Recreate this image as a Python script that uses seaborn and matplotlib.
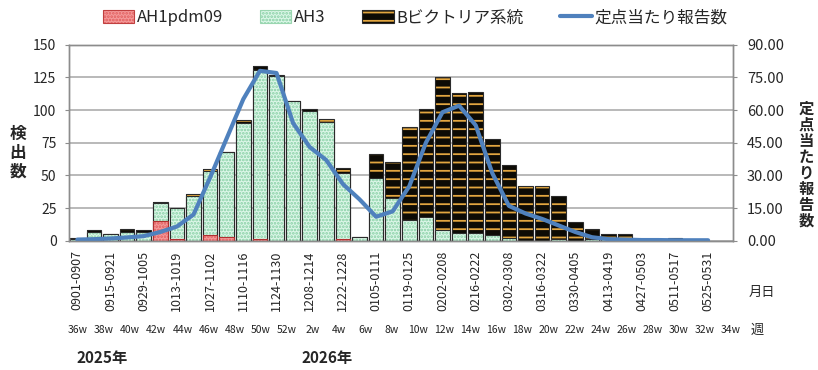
import numpy as np
import pandas as pd
import matplotlib
matplotlib.use("Agg")
import matplotlib.pyplot as plt
import seaborn as sns
from matplotlib.patches import Patch, Rectangle
from matplotlib.lines import Line2D
from matplotlib.legend_handler import HandlerTuple

# ---------------- data ----------------
week_cats = ["36w", "37w", "38w", "39w", "40w", "41w", "42w", "43w", "44w", "45w",
             "46w", "47w", "48w", "49w", "50w", "51w", "52w", "1w", "2w", "3w",
             "4w", "5w", "6w", "7w", "8w", "9w", "10w", "11w", "12w", "13w",
             "14w", "15w", "16w", "17w", "18w", "19w", "20w", "21w", "22w", "23w"]

date_ticks = ["0901-0907", "0915-0921", "0929-1005", "1013-1019", "1027-1102",
              "1110-1116", "1124-1130", "1208-1214", "1222-1228", "0105-0111",
              "0119-0125", "0202-0208", "0216-0222", "0302-0308", "0316-0322",
              "0330-0405", "0413-0419", "0427-0503", "0511-0517", "0525-0531"]

week_row = ["36w", "38w", "40w", "42w", "44w", "46w", "48w", "50w", "52w", "2w",
            "4w", "6w", "8w", "10w", "12w", "14w", "16w", "18w", "20w", "22w",
            "24w", "26w", "28w", "30w", "32w", "34w"]

ah1pdm09 = [0, 0, 0, 0, 0, 15, 1, 0, 4, 3,
            0, 1, 0, 0, 0, 0, 1, 0, 0, 0,
            0, 0, 0, 0, 0, 0, 0, 0, 0, 0,
            0, 0, 0, 0, 0, 0, 0, 0, 0, 0]
ah3 = [1, 7, 5, 7, 7, 14, 24, 34, 49, 65,
       90, 130, 126, 107, 99, 91, 51, 3, 48, 33,
       16, 18, 8, 6, 6, 4, 2, 0, 0, 1,
       0, 1, 2, 2, 0, 0, 0, 0, 0, 0]
b_victoria = [1, 1, 0, 2, 1, 1, 0, 2, 2, 0,
              2, 3, 1, 0, 2, 2, 4, 0, 18, 27,
              71, 83, 117, 107, 108, 74, 56, 42, 42, 33,
              14, 8, 3, 3, 0, 0, 2, 0, 0, 0]
per_sentinel = [0.5, 0.7, 1.0, 1.5, 2.1, 4.0, 6.5, 12, 29, 47,
                65, 78, 77, 54, 43, 37, 26, 19, 11, 13.5,
                25, 45, 59, 62, 53, 31, 16, 12.5, 10, 7,
                4, 1.6, 0.7, 0.5, 0.3, 0.3, 0.2, 0.2, 0.2, np.nan]

# ---------------- style ----------------
sns.set_style("white")
plt.rcParams["font.family"] = ["Noto Sans CJK JP", "DejaVu Sans"]
plt.rcParams["hatch.linewidth"] = 1.3

RED_FACE, RED_HATCH = "#f49a9a", "#e25d5d"
GRN_FACE, GRN_HATCH = "#dcf7e8", "#86cfa4"
B_FACE, B_HATCH = "#0d0b05", "#e2a640"
LINE_C = "#4f81bd"
EDGE = "#2b2b2b"
GRID = "#a6a6a6"

df = pd.DataFrame({"week": week_cats,
                   "ah1": ah1pdm09, "ah3": ah3, "b": b_victoria})
df["lvl1"] = df["ah1"]
df["lvl2"] = df["ah1"] + df["ah3"]
df["lvl3"] = df["lvl2"] + df["b"]

fig = plt.figure(figsize=(8.18, 3.70), dpi=100)
ax = fig.add_axes([69 / 818, 1 - 240.7 / 370, (733 - 69) / 818, (240.7 - 44.7) / 370])


def layer(col, face, hatch, hcolor, edge):
    n0 = len(ax.patches)
    sns.barplot(data=df, x="week", y=col, order=week_cats, color=face,
                saturation=1, width=0.88, linewidth=0, ax=ax, errorbar=None)
    new = list(ax.patches[n0:])
    for p in new:
        if p.get_height() <= 0:
            p.set_visible(False)
            continue
        xy, w, h = (p.get_x(), p.get_y()), p.get_width(), p.get_height()
        ax.add_patch(Rectangle(xy, w, h, facecolor="none", edgecolor=hcolor,
                               hatch=hatch, linewidth=0, zorder=p.get_zorder()))
        ax.add_patch(Rectangle(xy, w, h, fill=False, edgecolor=edge,
                               linewidth=0.8, zorder=p.get_zorder()))


layer("lvl3", B_FACE, "--", B_HATCH, EDGE)
layer("lvl2", GRN_FACE, ".....", GRN_HATCH, EDGE)
layer("lvl1", RED_FACE, ".....", RED_HATCH, "#b03030")

ax.set_xlim(-0.5, 39.5)
ax.set_ylim(0, 150)
ax.set_yticks(np.arange(0, 151, 25))
ax.set_yticklabels([str(v) for v in range(0, 151, 25)], fontsize=10)
ax.set_xticks(np.arange(0, 40, 2))
ax.set_xticklabels(date_ticks, rotation=90, fontsize=9)
ax.set_xticks(np.arange(-0.5, 40, 1), minor=True)
ax.tick_params(axis="x", which="major", length=0, pad=7)
ax.tick_params(axis="x", which="minor", length=4, color="#8c8c8c", width=0.8)
ax.tick_params(axis="y", length=3, color="#8c8c8c", pad=6, left=True)
ax.set_xlabel("")
ax.set_ylabel("")
ax.yaxis.grid(True, color=GRID, linewidth=1.1)
ax.set_axisbelow(True)
for s in ax.spines.values():
    s.set_color("#8c8c8c")
    s.set_linewidth(1)

ax2 = ax.twinx()
sns.lineplot(x=df.index, y=per_sentinel, ax=ax2, color=LINE_C, linewidth=3)
ax2.set_ylim(0, 90)
ax2.set_yticks(np.arange(0, 91, 15))
ax2.set_yticklabels([f"{v:.2f}" for v in range(0, 91, 15)], fontsize=10.5)
ax2.tick_params(axis="y", length=3, color="#8c8c8c", pad=7, right=True)
ax2.set_ylabel("")
ax2.set_xlim(-0.5, 39.5)
for s in ax2.spines.values():
    s.set_color("#8c8c8c")
    s.set_linewidth(1)

# ---------------- legend ----------------
h_red = (Patch(facecolor=RED_FACE, edgecolor="none"),
         Patch(facecolor="none", edgecolor=RED_HATCH, hatch=".....", linewidth=0),
         Patch(fill=False, edgecolor="#c04040", linewidth=0.8))
h_grn = (Patch(facecolor=GRN_FACE, edgecolor="none"),
         Patch(facecolor="none", edgecolor=GRN_HATCH, hatch=".....", linewidth=0),
         Patch(fill=False, edgecolor="#9ad6b0", linewidth=0.8))
h_b = (Patch(facecolor=B_FACE, edgecolor="none"),
       Patch(facecolor="none", edgecolor=B_HATCH, hatch="--", linewidth=0),
       Patch(fill=False, edgecolor=EDGE, linewidth=0.8))
h_line = Line2D([], [], color=LINE_C, linewidth=3)
fig.legend([h_red, h_grn, h_b, h_line],
           ["AH1pdm09", "AH3", "Bビクトリア系統", "定点当たり報告数"],
           loc="center", bbox_to_anchor=(415 / 818, 1 - 18 / 370), ncol=4,
           frameon=False, fontsize=12, handlelength=1.9, handleheight=0.8,
           handletextpad=0.15, columnspacing=2.2,
           handler_map={tuple: HandlerTuple(ndivide=1)})

# ---------------- side texts ----------------
fig.text(18 / 818, 1 - 153 / 370, "検\n出\n数", ha="center", va="center",
         fontsize=12, fontweight="bold", linespacing=1.05)
fig.text(806 / 818, 1 - 165 / 370, "定\n点\n当\nた\nり\n報\n告\n数",
         ha="center", va="center", fontsize=11, fontweight="bold", linespacing=1.0)
fig.text(762 / 818, 1 - 292 / 370, "月日", ha="center", va="center", fontsize=9.5)
fig.text(757 / 818, 1 - 330 / 370, "週", ha="center", va="center", fontsize=9.5)

for xpix, lab in zip(np.linspace(78, 731, len(week_row)), week_row):
    fig.text(xpix / 818, 1 - 330 / 370, lab, ha="center", va="center",
             fontsize=7.5, color="#222222")

fig.text(102 / 818, 1 - 358 / 370, "2025年", ha="center", va="center",
         fontsize=11, fontweight="bold")
fig.text(327 / 818, 1 - 358 / 370, "2026年", ha="center", va="center",
         fontsize=11, fontweight="bold")

fig.savefig("out.png", dpi=100)
